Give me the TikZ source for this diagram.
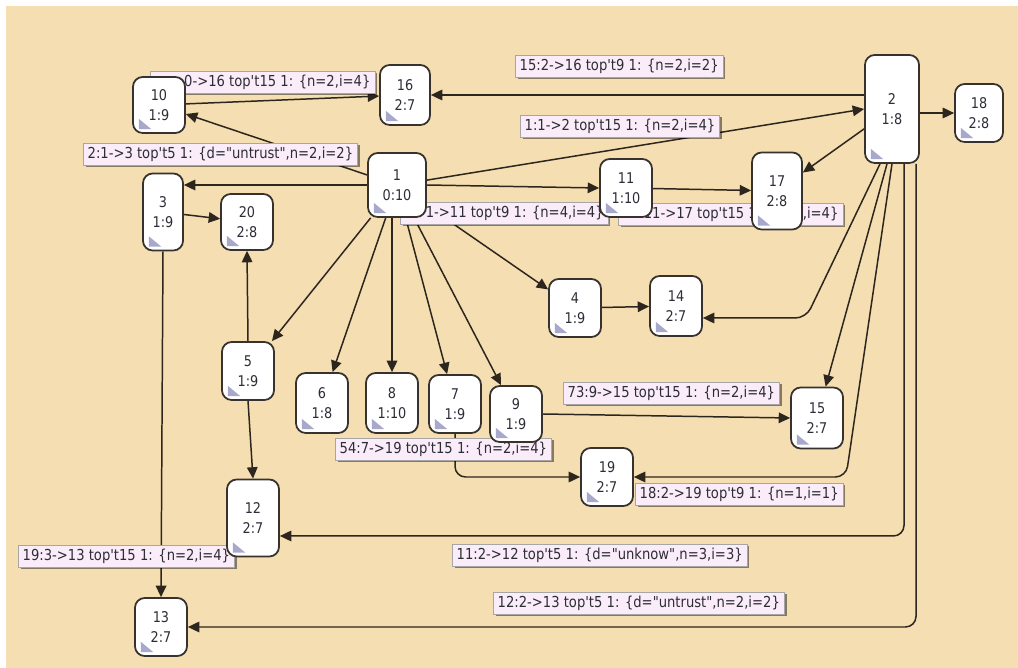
\documentclass[tikz,border=0pt]{standalone}
\usepackage{fontspec}
\newfontfamily\graphfont[FakeStretch=0.87]{DejaVu Sans}
\usetikzlibrary{arrows.meta,shadows}

\definecolor{wheatbg}{RGB}{244,222,178}
\definecolor{edgecol}{RGB}{45,38,30}
\definecolor{boxline}{RGB}{55,50,45}
\definecolor{labelfill}{RGB}{250,236,248}
\definecolor{iconcol}{RGB}{168,168,205}
\definecolor{textcol}{RGB}{45,45,55}

\pgfdeclarelayer{back}
\pgfdeclarelayer{edges}
\pgfdeclarelayer{labels}
\pgfsetlayers{back,edges,labels,main}

\tikzset{
  state/.style={draw=boxline, fill=white, line width=1pt, rounded corners=5.5pt,
    minimum width=1.04cm, minimum height=1.16cm, inner sep=0pt, align=center,
    text=textcol, font=\fontsize{8.4}{11.3}\graphfont,
    path picture={\fill[iconcol, sharp corners] ([shift={(3.4pt,2.2pt)}]path picture bounding box.south west)
      -- ++(0,5.8pt) -- ++(7pt,-5.8pt) -- cycle;}},
  tallstate/.style={state, minimum height=1.54cm},
  elabel/.style={fill=labelfill, draw=black!35, line width=0.3pt, anchor=west,
    inner xsep=2.5pt, inner ysep=0pt, minimum height=0.44cm, text=textcol,
    font=\fontsize{8.6}{10}\graphfont,
    drop shadow={shadow xshift=1.3pt, shadow yshift=-1.3pt, opacity=0.45, fill=black}},
  conn/.style={draw=edgecol, line width=0.85pt, rounded corners=6pt,
    -{Triangle[length=6.5pt,width=6pt]}}
}

\begin{document}
\begin{tikzpicture}[x=0.02cm, y=-0.02cm]
  \useasboundingbox (0,0) rectangle (1018,668);
  % Hintergrund
  \begin{pgfonlayer}{back}
    \fill[white] (0,0) rectangle (1018,668);
    \fill[wheatbg] (6,6) rectangle (1018,668);
  \end{pgfonlayer}

  % Zustaende
  \node[state, minimum width=1.16cm, minimum height=1.28cm] (n1) at (397,185) {1\\0:10};
  \node[state, minimum width=1.08cm, minimum height=2.16cm] (n2) at (892,109) {2\\1:8};
  \node[tallstate, minimum width=0.8cm] (n3) at (163,212) {3\\1:9};
  \node[state] (n4) at (575,308) {4\\1:9};
  \node[state] (n5) at (248,371) {5\\1:9};
  \node[state, minimum height=1.2cm] (n6) at (322,403) {6\\1:8};
  \node[state] (n7) at (455,404) {7\\1:9};
  \node[state, minimum height=1.2cm] (n8) at (392,403) {8\\1:10};
  \node[state, minimum height=1.12cm] (n9) at (516,414) {9\\1:9};
  \node[state, minimum height=1.12cm] (n10) at (159,105) {10\\1:9};
  \node[state] (n11) at (626,188) {11\\1:10};
  \node[tallstate] (n12) at (253,518) {12\\2:7};
  \node[state] (n13) at (161,627) {13\\2:7};
  \node[state, minimum height=1.2cm] (n14) at (676,306) {14\\2:7};
  \node[state, minimum height=1.22cm] (n15) at (817,418) {15\\2:7};
  \node[state, minimum width=1cm, minimum height=1.2cm] (n16) at (405,95) {16\\2:7};
  \node[tallstate, minimum width=1cm] (n17) at (777,191) {17\\2:8};
  \node[state, minimum width=0.96cm] (n18) at (979,113) {18\\2:8};
  \node[state] (n19) at (607,477) {19\\2:7};
  \node[state, minimum height=1.12cm] (n20) at (247,222) {20\\2:8};

  % Beschriftungen der Kanten
  \begin{pgfonlayer}{labels}
    \node[elabel] (l216) at (515,66) {15:2->16 top't9 1: \{n=2,i=2\}};
    \node[elabel] (l1016) at (150,82) {\phantom{14:1}0->16 top't15 1: \{n=2,i=4\}};
    \node[elabel] (l12) at (520,126) {1:1->2 top't15 1: \{n=2,i=4\}};
    \node[elabel] (l13) at (83,154) {2:1->3 top't5 1: \{d="untrust",n=2,i=2\}};
    \node[elabel] (l111) at (400,213) {\phantom{30:}1->11 top't9 1: \{n=4,i=4\}};
    \node[elabel] (l1117) at (618,214) {\phantom{21:}11->17 top't15 1: \{n=2,i=4\}};
    \node[elabel] (l915) at (563,393) {73:9->15 top't15 1: \{n=2,i=4\}};
    \node[elabel] (l719) at (335,449) {54:7->19 top't15 1: \{n=2,i=4\}};
    \node[elabel] (l219) at (635,494) {18:2->19 top't9 1: \{n=1,i=1\}};
    \node[elabel] (l313) at (18,556) {19:3->13 top't15 1: \{n=2,i=4\}};
    \node[elabel] (l212) at (452,555) {11:2->12 top't5 1: \{d="unknow",n=3,i=3\}};
    \node[elabel] (l213) at (493,603) {12:2->13 top't5 1: \{d="untrust",n=2,i=2\}};
  \end{pgfonlayer}

  % Kanten
  \begin{pgfonlayer}{edges}
    \coordinate (b14) at (806,318);
    \coordinate (b19) at (846,477);
    \draw[conn] (n1) -- (n10);
    \draw[conn] (n10) -- (n16);
    \draw[conn] (n2.west |- n16) -- (n16.east);
    \draw[conn] (n1.west) -- (n1.west -| n3.east);
    \draw[conn] (n3) -- (n20);
    \draw[conn] (n1) -- (n2.west);
    \draw[conn] (n1.east) -- (n11.west);
    \draw[conn] (n11) -- (n17);
    \draw[conn] (n2) -- (n17);
    \draw[conn] (n2.east |- n18) -- (n18.west);
    \draw[conn] (n1) -- (n4);
    \draw[conn] (n4) -- (n14);
    \draw[conn] (n1) -- (n5);
    \draw[conn] (n1) -- (n6);
    \draw[conn] (n8 |- n1.south) -- (n8.north);
    \draw[conn] (n1) -- (n7);
    \draw[conn] (n1) -- (n9);
    \draw[conn] (n5.north) -- (n20.south);
    \draw[conn] (n5.south) -- (n12.north);
    \draw[conn] (n3.south) -- (n13.north);
    \draw[conn] (n9.east) -- (n15.west);
    \draw[conn] (n7.south) |- (n19.west);
    \draw[conn] ([xshift=-0.24cm]n2.south) -- (b14) -- (b14 -| n14.east);
    \draw[conn] ([xshift=-0.1cm]n2.south) -- (n15);
    \draw[conn] (n2.south) -- (b19) -- (n19.east);
    \draw[conn] ([xshift=0.24cm]n2.south) |- ([yshift=-0.36cm]n12.east);
    \draw[conn] ([xshift=0.48cm]n2.south) |- (n13.east);
  \end{pgfonlayer}
\end{tikzpicture}
\end{document}
